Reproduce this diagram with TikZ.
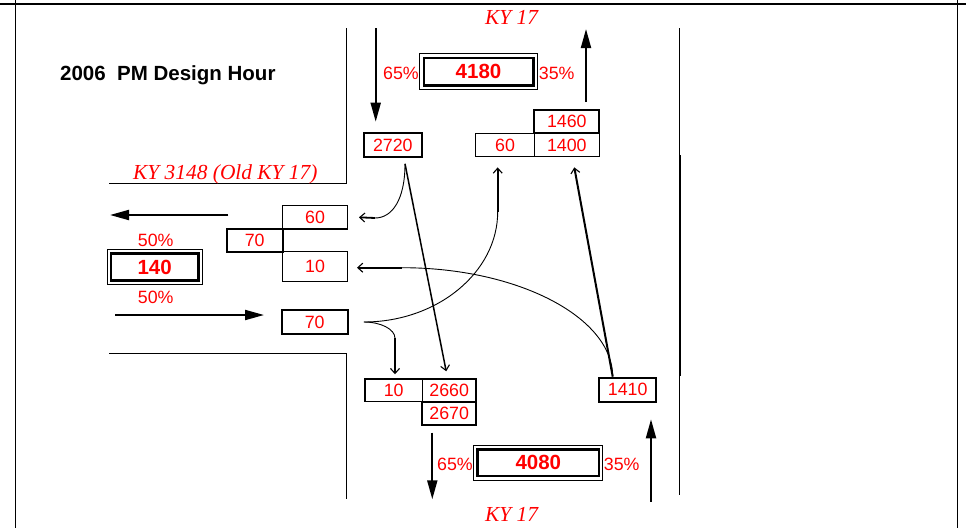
\documentclass[tikz,border=0pt]{standalone}
\usepackage{fontspec}
\setmainfont{Liberation Sans}
\newfontfamily\serifit{Liberation Serif}
\usetikzlibrary{arrows.meta}
\definecolor{tred}{RGB}{255,0,0}
\tikzset{
  num/.style={text=tred, font=\fontsize{17.8}{20}\selectfont},
  bignum/.style={text=tred, font=\bfseries\fontsize{20.5}{24}\selectfont},
  cell/.style={draw, line width=1.4pt, inner sep=0pt, num},
  cellthick/.style={cell, line width=2.2pt},
  dblinner/.style={draw, line width=2.4pt, inner sep=0pt, bignum},
  dblouter/.style={line width=0.9pt},
  road/.style={line width=1pt},
  bigarrow/.style={line width=2pt, -{Triangle[length=19pt,width=10pt]}},
  flow/.style={line width=0.9pt},
  flowtip/.style={line width=1.8pt, -{Straight Barb[length=5pt,width=9pt,line width=1.1pt]}},
  flowline/.style={line width=1.5pt, -{Straight Barb[length=5pt,width=9pt,line width=1.1pt]}},
  roadname/.style={text=tred, inner sep=0pt, font=\serifit\itshape\fontsize{21.4}{24}\selectfont},
  pct/.style={num, inner sep=0pt},
}
\begin{document}
\begin{tikzpicture}[x=1pt,y=-1pt]
\useasboundingbox (0,0) rectangle (966,528);
% frame
\draw[line width=1.4pt] (0,4) -- (966,4);
\draw[line width=1.4pt] (15.7,0) -- (15.7,528);
\draw[line width=1.4pt] (957.3,0) -- (957.3,528);
% roads
\draw[road] (346,28) -- (346,183) -- (109,183);
\draw[road] (109,353) -- (346,353) -- (346,499);
\draw[road] (679,28) -- (679,495);
\draw[line width=2.5pt] (680,155) -- (680,376);
% title and road names
\node[anchor=base west, inner sep=0pt, font=\bfseries\fontsize{20.5}{24}\selectfont] (title) at (60,80) {2006\ \ PM Design Hour};
\node[roadname, anchor=base west] (ky17t) at (485,24.3) {KY 17};
\node[roadname, anchor=base west] (ky17b) at (485,521.7) {KY 17};
\node[roadname, anchor=base west] (ky3148) at (133,179) {KY 3148 (Old KY 17)};
% totals
\node[dblinner, minimum width=109.6pt, minimum height=27.9pt] (d4180) at (478.5,71.7) {4180};
\draw[dblouter] ([xshift=-2.7pt,yshift=-2.7pt]d4180.south west) rectangle ([xshift=2.7pt,yshift=2.7pt]d4180.north east);
\node[dblinner, minimum width=87.3pt, minimum height=27.2pt] (d140) at (154.7,267) {140};
\draw[dblouter] ([xshift=-2.7pt,yshift=-2.7pt]d140.south west) rectangle ([xshift=2.7pt,yshift=2.7pt]d140.north east);
\node[dblinner, minimum width=121.3pt, minimum height=26.9pt] (d4080) at (538.3,462.8) {4080};
\draw[dblouter] ([xshift=-2.7pt,yshift=-2.7pt]d4080.south west) rectangle ([xshift=2.7pt,yshift=2.7pt]d4080.north east);
% percentages
\node[pct] (p65t) at (401,73.5) {65\%};
\node[pct] (p35t) at (556.7,73.5) {35\%};
\node[pct] (p50a) at (155.7,240) {50\%};
\node[pct] (p50b) at (155.7,297.3) {50\%};
\node[pct] (p65b) at (455,464) {65\%};
\node[pct] (p35b) at (621.7,464) {35\%};
% cells north
\node[cellthick, minimum width=57.7pt, minimum height=23.4pt] (b2720) at (392.8,145) {2720};
\node[cellthick, minimum width=65pt, minimum height=23.3pt] (b1460) at (566.8,121.7) {1460};
\node[cell, minimum width=58.6pt, minimum height=23.4pt] (b60t) at (505,145) {60};
\node[cell, minimum width=65pt, minimum height=23.4pt] (b1400) at (566.8,145) {1400};
% cells west
\node[cell, minimum width=64.6pt, minimum height=23.3pt] (b60l) at (315,217.3) {60};
\node[cellthick, minimum width=56pt, minimum height=22.7pt] (b70l) at (254.7,240.3) {70};
\node[cell, minimum width=64.6pt, minimum height=30pt] (b10l) at (315,266.7) {10};
\node[cellthick, minimum width=66pt, minimum height=24pt] (b70e) at (314.7,322) {70};
% cells south
\node[cell, minimum width=57.3pt, minimum height=22.7pt] (b10b) at (393.7,390.3) {10};
\node[cell, minimum width=53.7pt, minimum height=22.7pt] (b2660) at (449.2,390.3) {2660};
\node[cellthick, minimum width=53.7pt, minimum height=23.3pt] (b2670) at (449.2,413.3) {2670};
\node[cellthick, minimum width=56.7pt, minimum height=24pt] (b1410) at (627.7,389.7) {1410};
% approach arrows
\coordinate (sa1) at (375.7,28);  \coordinate (sa2) at (375.7,121.7);
\coordinate (na1) at (586,102);   \coordinate (na2) at (586,29);
\coordinate (wa1) at (228.3,215); \coordinate (wa2) at (110,215);
\coordinate (ea1) at (115,315);   \coordinate (ea2) at (264,315);
\coordinate (sb1) at (432.3,432.7); \coordinate (sb2) at (432.3,499.3);
\coordinate (nb1) at (651,501.7); \coordinate (nb2) at (651,419.3);
\draw[bigarrow] (sa1) -- (sa2);
\draw[bigarrow] (na1) -- (na2);
\draw[bigarrow] (wa1) -- (wa2);
\draw[bigarrow] (ea1) -- (ea2);
\draw[bigarrow] (sb1) -- (sb2);
\draw[bigarrow] (nb1) -- (nb2);
% turning flows
\coordinate (f1s) at ([xshift=12.2pt,yshift=-6pt]b2720.south);
\coordinate (f1m) at (375,218);
\draw[flow] (f1s) .. controls (405,200) and (392,218) .. (f1m);
\draw[flowtip] (f1m) -- ([xshift=11pt]b60l.east);
\draw[flowline] (f1s) -- ([xshift=-3pt,yshift=7pt]b2660.north);
\coordinate (f3s) at ([xshift=15pt]b70e.east);
\coordinate (f3m) at (497.7,211.7);
\draw[flow] (f3s) .. controls (437.2,322) and (497.7,272.4) .. (f3m);
\draw[flowtip] (f3m) -- ([xshift=-7.3pt,yshift=-10pt]b60t.south);
\coordinate (f4m) at (395,338.3);
\draw[flow] (f3s) .. controls (380.5,322) and (395,329) .. (f4m);
\draw[flowtip] (f4m) -- ([xshift=1.3pt,yshift=4pt]b10b.north);
\coordinate (f5s) at ([xshift=-15pt]b1410.north);
\coordinate (f5m) at (402,267.7);
\draw[flow] (f5s) .. controls (612.7,317.3) and (517.9,267.7) .. (f5m);
\draw[flowtip] (f5m) -- ([xshift=9pt,yshift=-1pt]b10l.east);
\draw[flowline, line width=2pt] (f5s) -- ([xshift=7.5pt,yshift=-10pt]b1400.south);
\end{tikzpicture}
\end{document}
